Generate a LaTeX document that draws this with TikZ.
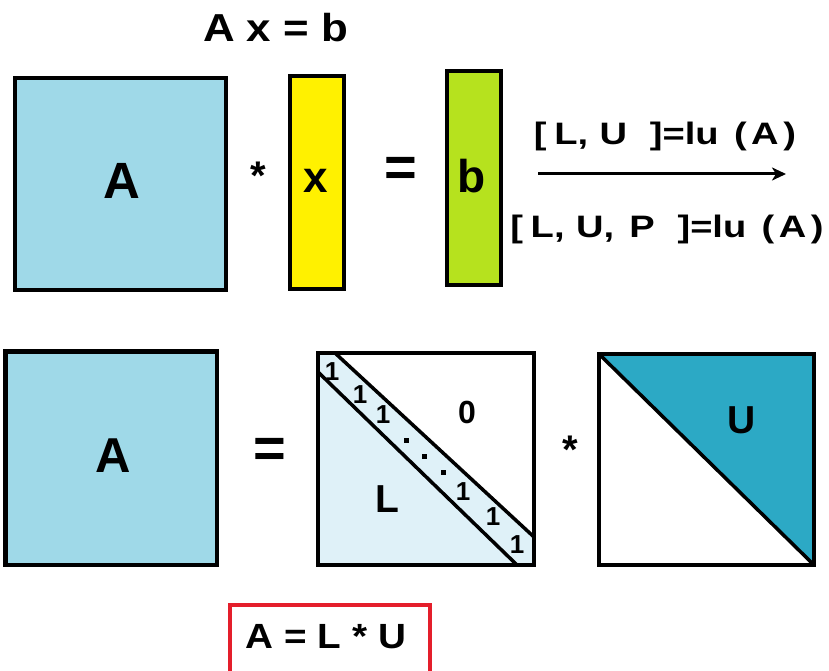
\documentclass[tikz,border=0pt]{standalone}
\usepackage{fontspec}
\setmainfont{Liberation Sans}
\usetikzlibrary{arrows.meta}
\definecolor{cA}{HTML}{9FD9E8}
\definecolor{cX}{HTML}{FFF100}
\definecolor{cB}{HTML}{B6E21E}
\definecolor{cL}{HTML}{DFF1F8}
\definecolor{cU}{HTML}{2CA9C5}
\definecolor{cR}{HTML}{E41E2B}
\begin{document}
\begin{tikzpicture}[x=1pt,y=-1pt,
  box/.style={draw=black, line width=4.5pt, inner sep=0pt},
  lbl/.style={inner sep=0pt, anchor=base, font=\bfseries\fontsize{#1}{#1}\selectfont},
  ctr/.style={inner sep=0pt, anchor=center, font=\bfseries\fontsize{#1}{#1}\selectfont},
  diag/.style={line width=3.5pt},
  dotsq/.style={fill=black, minimum size=5pt, inner sep=0pt},
]
\clip (0,0) rectangle (829,671);
\fill[white] (0,0) rectangle (829,671);

% title
\node[lbl=39] (title) at (275.5,42) {\resizebox{145pt}{\height}{A x = b}};

% top row
\node[box, fill=cA, minimum width=211pt, minimum height=212pt] (A1) at (120.5,184) {};
\node[lbl=51] (tA1) at (122,198) {A};
\node[ctr=40] (st1) at (258,176) {*};
\node[box, fill=cX, minimum width=54pt, minimum height=213pt] (X) at (317,182.5) {};
\node[lbl=44] (tX) at (316,193) {x};
\node[ctr=56] (eq1) at (401,172) {=};
\node[box, fill=cB, minimum width=54pt, minimum height=214pt] (B) at (474,178) {};
\node[lbl=46] (tB) at (472,193) {b};

% arrow with labels
\coordinate (ar1) at (538,174);
\coordinate (ar2) at (786,174);
\draw[line width=3pt, -{Stealth[length=14pt,width=13pt,inset=4pt]}] (ar1) -- (ar2);
\node[lbl=31] (lu1) at (665,145) {\resizebox{262pt}{\height}{[\hspace{0.2em}L,\hspace{0.3em}U\hspace{0.6em}]=lu\hspace{0.4em}(\hspace{0.12em}A\hspace{0.12em})}};
\node[lbl=31] (lu2) at (667,237) {\resizebox{313pt}{\height}{[\hspace{0.2em}L,\hspace{0.3em}U,\hspace{0.4em}P\hspace{0.6em}]=lu\hspace{0.4em}(\hspace{0.12em}A\hspace{0.12em})}};

% bottom row
\node[box, fill=cA, minimum width=211.5pt, minimum height=213.5pt] (A2) at (111,458) {};
\node[lbl=49] (tA2) at (113,472) {A};
\node[ctr=56] (eq2) at (270,453) {=};

% L matrix
\fill[cL] (318,353) -- (335,353) -- (534,537) -- (534,565) -- (318,565) -- cycle;
\draw[diag] (335,353) -- (534,537);
\draw[diag] (318,372) -- (517,565);
\node[box, minimum width=216pt, minimum height=212pt] (Lm) at (426,459) {};
\node[ctr=26] (o1) at (332,372) {1};
\node[ctr=26] (o2) at (360,395) {1};
\node[ctr=26] (o3) at (383,415) {1};
\node[dotsq] (d1) at (406,440) {};
\node[dotsq] (d2) at (424,456) {};
\node[dotsq] (d3) at (443,472) {};
\node[ctr=26] (o4) at (463,492) {1};
\node[ctr=26] (o5) at (493,517) {1};
\node[ctr=26] (o6) at (517,545) {1};
\node[lbl=32] (t0) at (467,423) {0};
\node[lbl=39] (tL) at (387,512) {L};

\node[ctr=40] (st2) at (570,450) {*};

% U matrix
\fill[cU] (599,354) -- (814,354) -- (814,565) -- cycle;
\draw[diag] (599,354) -- (814,565);
\node[box, minimum width=215pt, minimum height=211pt] (Um) at (706.5,459.5) {};
\node[lbl=39] (tU) at (742,433) {U};

% red box
\node[draw=cR, line width=4pt, minimum width=200pt, minimum height=80pt, inner sep=0pt] (red) at (330,645) {};
\node[lbl=35] (tred) at (326,648) {\resizebox{160pt}{\height}{A = L * U}};
\end{tikzpicture}
\end{document}
